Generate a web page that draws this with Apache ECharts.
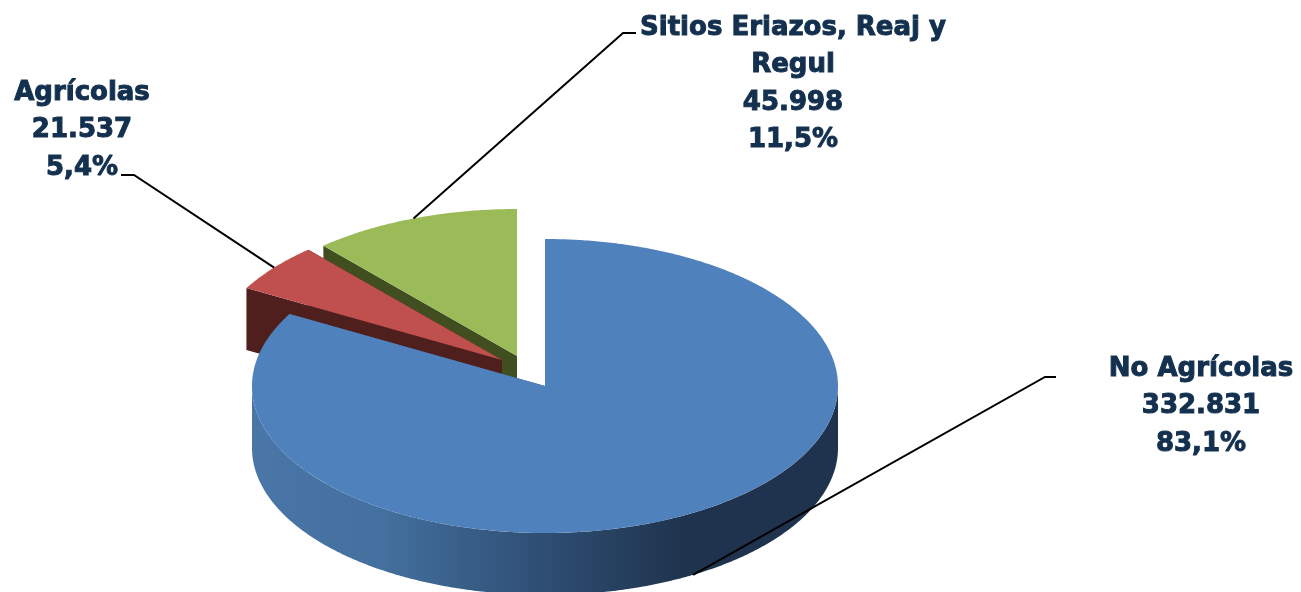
<!DOCTYPE html>
<html>
<head>
<meta charset="utf-8">
<style>html,body{margin:0;padding:0;background:#fff}#c{width:1301px;height:592px}</style>
<script src="https://cdn.jsdelivr.net/npm/echarts@6/dist/echarts.min.js"></script>
</head>
<body>
<div id="c"></div>
<script>
// Data, clockwise from 12 o'clock
const categories = ["No Agrícolas", "Agrícolas", "Sitios Eriazos, Reaj y\nRegul"];
const values = [332831, 21537, 45998];
const valueLabels = ["332.831", "21.537", "45.998"];
const percentLabels = ["83,1%", "5,4%", "11,5%"];

// Presentation
const topColors = ["#4f81bd", "#c0504d", "#9bbb59"];
const wallColors = [null, "#4f1f1e", "#404e20"];
const explode = [[0, 0], [-43, -26], [-28, -30]];
const stackOrder = [30, 20, 10];
const labelBoxes = [[1201, 350], [82, 74], [793, 9]];
const elbows = [[[1045, 377], [1056, 377]], [[134, 175], [121, 175]], [[623, 33], [636, 33]]];
const leaderOnWall = [true, false, false];

const CX = 545, CY = 386, RX = 293, RY = 147, DEPTH = 62;
const total = values.reduce((a, b) => a + b, 0);

function pt(deg, ox, oy, dy) {
  const t = deg * Math.PI / 180;
  return [CX + ox + RX * Math.sin(t), CY + oy - RY * Math.cos(t) + (dy || 0)];
}
function arc(a0, a1, ox, oy, dy) {
  const n = Math.max(2, Math.ceil(Math.abs(a1 - a0) * 2));
  const out = [];
  for (let i = 0; i <= n; i++) out.push(pt(a0 + (a1 - a0) * i / n, ox, oy, dy));
  return out;
}
const blueWall = new echarts.graphic.LinearGradient(251, 0, 838, 0, [
  { offset: 0, color: "#4a76a8" },
  { offset: 0.22, color: "#44709f" },
  { offset: 0.5, color: "#2e4e73" },
  { offset: 0.74, color: "#1f334e" },
  { offset: 1, color: "#1f334e" }
], true);

function renderSlice(params, api) {
  const i = params.dataIndex;
  const v = api.value(0);
  let before = 0;
  for (let k = 0; k < i; k++) before += values[k];
  const a0 = before / total * 360, a1 = (before + v) / total * 360, mid = (a0 + a1) / 2;
  const [ox, oy] = explode[i];
  const z = stackOrder[i];
  const apex = [CX + ox, CY + oy];
  const apexLow = [apex[0], apex[1] + DEPTH];
  const wallFill = wallColors[i] || blueWall;
  const upper = arc(a0, a1, ox, oy, 0);
  const first = upper[0], last = upper[upper.length - 1];
  const children = [
    { type: "polygon", z2: z + 1, shape: { points: [apex, first, [first[0], first[1] + DEPTH], apexLow] }, style: { fill: wallFill } },
    { type: "polygon", z2: z + 1, shape: { points: [apex, last, [last[0], last[1] + DEPTH], apexLow] }, style: { fill: wallFill } },
    { type: "polygon", z2: z + 2, shape: { points: [apex].concat(upper) }, style: { fill: topColors[i] } }
  ];
  // Outer wall: only the front-facing part of the rim (90° to 270°)
  const w0 = Math.max(a0, 90), w1 = Math.min(a1, 270);
  if (w1 > w0) {
    children.push({
      type: "polygon", z2: z + 1,
      shape: { points: arc(w0, w1, ox, oy, 0).concat(arc(w1, w0, ox, oy, DEPTH)) },
      style: { fill: wallFill }
    });
  }
  const anchor = pt(mid, ox, oy, leaderOnWall[i] ? DEPTH : 0);
  children.push({
    type: "polyline", z2: 50,
    shape: { points: [anchor].concat(elbows[i]) },
    style: { stroke: "#000", lineWidth: 2, fill: null }
  });
  children.push({
    type: "text", z2: 60,
    style: {
      x: labelBoxes[i][0], y: labelBoxes[i][1],
      text: [categories[i], valueLabels[i], percentLabels[i]].join("\n"),
      fill: "#14304f",
      stroke: "#14304f",
      lineWidth: 1,
      font: 'bold 26px "DejaVu Sans"',
      lineHeight: 37.6,
      align: "center",
      verticalAlign: "top"
    }
  });
  return { type: "group", children };
}

const chart = echarts.init(document.getElementById("c"), null, { renderer: "canvas" });
chart.setOption({
  backgroundColor: "#ffffff",
  animation: false,
  series: [{
    type: "custom",
    coordinateSystem: "none",
    clip: false,
    silent: true,
    renderItem: renderSlice,
    data: values.map((v, i) => ({ name: categories[i], value: [v] }))
  }]
});
</script>
</body>
</html>
